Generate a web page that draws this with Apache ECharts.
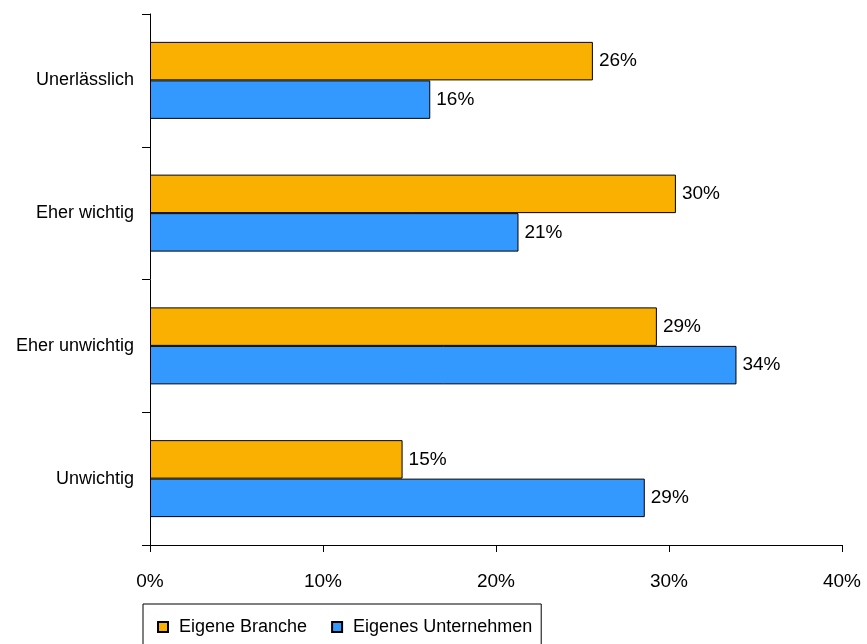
<!DOCTYPE html>
<html>
<head>
<meta charset="utf-8">
<script src="https://cdn.jsdelivr.net/npm/echarts@6/dist/echarts.min.js"></script>
<style>
  html, body { margin: 0; padding: 0; background: #ffffff; }
  #chart { width: 867px; height: 644px; }
</style>
</head>
<body>
<div id="chart"></div>
<script>
// Categories, top to bottom
const categories = ['Unerlässlich', 'Eher wichtig', 'Eher unwichtig', 'Unwichtig'];

// Share of answers in percent
const eigeneBranche = [25.6, 30.4, 29.3, 14.6];
const eigenesUnternehmen = [16.2, 21.3, 33.9, 28.6];

const seriesNames = ['Eigene Branche', 'Eigenes Unternehmen'];
const xTicks = [0, 10, 20, 30, 40];

const FONT = '"Liberation Sans", Arial, sans-serif';

const chart = echarts.init(document.getElementById('chart'), null, { renderer: 'canvas' });

const barLabel = {
  show: true,
  position: 'right',
  distance: 6,
  color: '#000',
  fontFamily: FONT,
  fontSize: 19,
  formatter: p => Math.round(p.value) + '%'
};

chart.setOption({
  animation: false,
  backgroundColor: '#ffffff',
  grid: { left: 150, right: 25, top: 14, bottom: 99, containLabel: false },
  legend: {
    data: seriesNames,
    left: 143,
    top: 604,
    orient: 'horizontal',
    itemWidth: 10,
    itemHeight: 10,
    itemGap: 24,
    padding: [14, 9, 16, 14],
    borderColor: '#000',
    borderWidth: 1,
    icon: 'rect',
    textStyle: { fontFamily: FONT, fontSize: 18, color: '#000', padding: [0, 0, 0, 6] }
  },
  xAxis: {
    type: 'value',
    min: xTicks[0],
    max: xTicks[xTicks.length - 1],
    interval: 10,
    axisLine: { show: true, lineStyle: { color: '#000', width: 1 } },
    axisTick: { show: true, length: 7, lineStyle: { color: '#000' } },
    splitLine: { show: false },
    axisLabel: {
      margin: 27,
      color: '#000',
      fontFamily: FONT,
      fontSize: 19,
      formatter: v => v + '%'
    }
  },
  yAxis: {
    type: 'category',
    data: categories,
    inverse: true,
    axisLine: { show: true, lineStyle: { color: '#000', width: 1 } },
    axisTick: { show: true, length: 8, alignWithLabel: false, lineStyle: { color: '#000' } },
    axisLabel: {
      margin: 16,
      color: '#000',
      fontFamily: FONT,
      fontSize: 18
    }
  },
  series: [
    {
      name: seriesNames[0],
      type: 'bar',
      data: eigeneBranche,
      barGap: '0%',
      barCategoryGap: '42%',
      itemStyle: { color: '#F9B000', borderColor: '#000', borderWidth: 1 },
      label: barLabel
    },
    {
      name: seriesNames[1],
      type: 'bar',
      data: eigenesUnternehmen,
      barGap: '0%',
      barCategoryGap: '42%',
      itemStyle: { color: '#3399FF', borderColor: '#000', borderWidth: 1 },
      label: barLabel
    }
  ]
});
</script>
</body>
</html>
